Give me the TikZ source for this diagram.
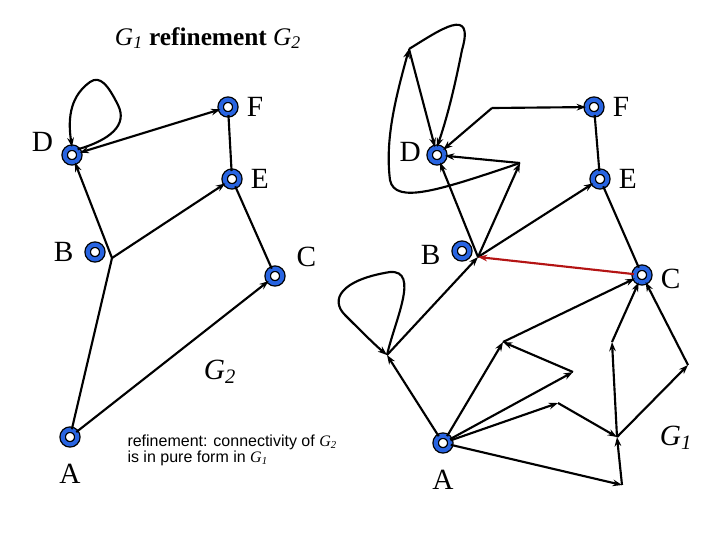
\documentclass[tikz,border=0pt]{standalone}
\usepackage{fontspec}
\setmainfont{Liberation Serif}
\newfontfamily\sansf{Liberation Sans}
\usetikzlibrary{arrows.meta, positioning}
\definecolor{vblue}{RGB}{40,100,225}
\definecolor{redarc}{RGB}{180,20,20}
\newcommand{\gsub}[1]{\textit{G}\textsubscript{\textit{#1}}}

\begin{document}
\begin{tikzpicture}[x=0.75pt, y=-0.75pt,
          > = {Stealth[length=7pt,width=5pt]}, % arrow head style
          every path/.style = {line width=1.6pt},
          vtx/.style = {circle, draw=black, double=vblue, double distance=3pt,
              fill=white, line width=1pt, minimum size=11pt, inner sep=0pt},
          lbl/.style = {font=\fontsize{22}{24}\selectfont}
      ]
  \useasboundingbox (0,0) rectangle (720,540);

  % Title and captions
  \node (title) at (208,38) {\fontsize{19}{22}\selectfont \gsub{1} \textbf{refinement} \gsub{2}};
  \node (gtwo) at (220,372) {\fontsize{22}{24}\selectfont \gsub{2}};
  \node (gone) at (676,438) {\fontsize{22}{24}\selectfont \gsub{1}};
  \node[align=left, anchor=west] (note) at (122,450)
    {\sansf\fontsize{12}{14}\selectfont refinement: connectivity of {\rmfamily\gsub{2}}\\
     \sansf\fontsize{12}{14}\selectfont is in pure form in {\rmfamily\gsub{1}}};

  % Left graph G2
  \node[vtx] (dl) at (72,155) {};
  \node[vtx] (fl) at (228,107) {};
  \node[vtx] (el) at (232,179) {};
  \node[vtx] (bl) at (95,252) {};
  \node[vtx] (cl) at (275,276) {};
  \node[vtx] (al) at (70,437) {};
  \coordinate (ll) at (112,258);

  \node[lbl, left=4pt of dl, yshift=10pt] {D};
  \node[lbl, right=4pt of fl] {F};
  \node[lbl, right=4pt of el] {E};
  \node[lbl, left=6pt of bl] {B};
  \node[lbl, right=6pt of cl, yshift=14pt] {C};
  \node[lbl, below=10pt of al] {A};

  \draw[<->] (dl) -- (fl);
  \draw (fl) -- (el);
  \draw[->] (ll) -- (dl);
  \draw[->] (ll) -- (el);
  \draw (el) -- (cl);
  \draw (al) -- (ll);
  \draw[->] (al) -- (cl);
  \draw[->] (dl.north east) .. controls (110,140) and (128,125) .. (118,105)
            .. controls (108,85) and (100,75) .. (90,82)
            .. controls (72,95) and (67,115) .. (dl.north);

  % Right graph G1
  \node[vtx] (dr) at (437,155) {};
  \node[vtx] (fr) at (594,107) {};
  \node[vtx] (er) at (600,179) {};
  \node[vtx] (br) at (462,251) {};
  \node[vtx] (cr) at (642,275) {};
  \node[vtx] (ar) at (443,443) {};

  \node[lbl, left=2pt of dr, yshift=2pt] {D};
  \node[lbl, right=4pt of fr] {F};
  \node[lbl, right=4pt of er] {E};
  \node[lbl, left=6pt of br, yshift=-3pt] {B};
  \node[lbl, right=4pt of cr, yshift=-3pt] {C};
  \node[lbl, below=10pt of ar] {A};

  \coordinate (t1) at (409,49);
  \coordinate (p1) at (492,108);
  \coordinate (p2) at (520,163);
  \coordinate (q) at (478,257);
  \coordinate (r) at (387,355);
  \coordinate (s1) at (503,342);
  \coordinate (s3) at (573,372);
  \coordinate (s4) at (558,403);
  \coordinate (s5) at (617,437);
  \coordinate (s6) at (612,342);
  \coordinate (s7) at (688,365);
  \coordinate (s8) at (622,485);

  \draw[->] (t1) -- (dr);
  \draw[->] (t1) .. controls (440,30) and (475,5) .. (462,50)
            .. controls (455,85) and (448,115) .. (dr.north);
  \draw[->] (p2) .. controls (440,190) and (395,205) .. (390,180)
            .. controls (385,140) and (395,100) .. (t1);
  \draw[->] (p1) -- (dr);
  \draw[->] (p1) -- (fr);
  \draw (fr) -- (er);
  \draw[->] (p2) -- (dr);
  \draw[->] (q) -- (dr);
  \draw[->] (q) -- (p2);
  \draw[->] (q) -- (er);
  \draw (er) -- (cr);
  \draw[->, redarc] (cr) -- (q);
  \draw[->] (r) -- (q);
  \draw[->] (r) .. controls (395,320) and (420,270) .. (390,272)
            .. controls (340,280) and (330,300) .. (345,315)
            .. controls (360,330) and (375,345) .. (r);
  \draw[->] (ar) -- (r);
  \draw[->] (ar) -- (s1);
  \draw[->] (ar) -- (s3);
  \draw[->] (s3) -- (s1);
  \draw[->] (s1) -- (cr);
  \draw[->] (ar) -- (s4);
  \draw[->] (s4) -- (s5);
  \draw[->] (s5) -- (s6);
  \draw[->] (s6) -- (cr);
  \draw[->] (s5) -- (s7);
  \draw[->] (s7) -- (cr);
  \draw[->] (ar) -- (s8);
  \draw[->] (s8) -- (s5);
\end{tikzpicture}
\end{document}
